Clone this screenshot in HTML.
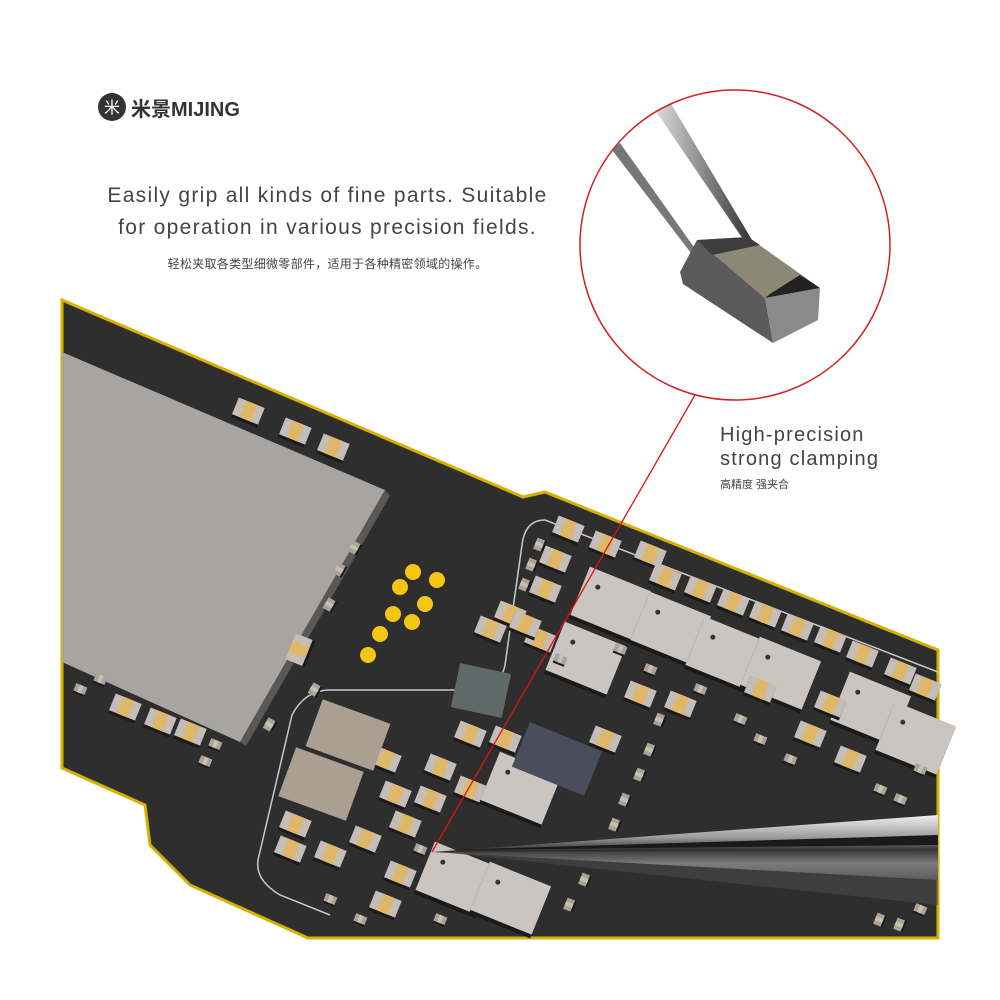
<!DOCTYPE html>
<html><head><meta charset="utf-8"><style>
html,body{margin:0;padding:0;background:#fff;}
.wrap{position:relative;width:1000px;height:1000px;overflow:hidden;font-family:"Liberation Sans","Noto Sans CJK SC",sans-serif;}
.t{position:absolute;color:#444;}
</style></head><body><div class="wrap">
<svg width="1000" height="1000" style="position:absolute;left:0;top:0">
<defs>
<linearGradient id="tw" x1="0" y1="0" x2="0" y2="1">
<stop offset="0" stop-color="#f0f0f0"/><stop offset="0.35" stop-color="#9a9a9a"/><stop offset="0.55" stop-color="#2a2a2a"/><stop offset="0.75" stop-color="#c8c8c8"/><stop offset="1" stop-color="#777"/></linearGradient>
<linearGradient id="tw2" x1="0" y1="0" x2="1" y2="0">
<stop offset="0" stop-color="#ddd"/><stop offset="0.5" stop-color="#8a8a8a"/><stop offset="1" stop-color="#333"/></linearGradient>
<g id="c"><rect x="-14" y="-9" width="28" height="20" fill="#1a1a1a"/><rect x="-14" y="-10" width="28" height="18" fill="#c4bdb8"/><rect x="-6" y="-10" width="12" height="18" fill="#deb868"/></g>
<g id="s"><rect x="-6" y="-4" width="12" height="9" fill="#1a1a1a"/><rect x="-6" y="-5" width="12" height="8" fill="#a9a39d"/><rect x="-2" y="-5" width="4" height="8" fill="#c9c1a6"/></g>
<g id="b"><rect x="-33" y="-26" width="66" height="54" fill="#1a1a1a"/><rect x="-33" y="-28" width="66" height="52" fill="#cbc5c1"/><circle cx="-18" cy="-12" r="2.5" fill="#333"/></g>
<clipPath id="cc"><circle cx="735" cy="245" r="155"/></clipPath>
</defs>
<polygon points="62,300 523,497 545,492 938,650 938,938 308,938 190,885 150,845 145,805 62,768" fill="#2e2e2e" stroke="#d6b100" stroke-width="3"/>
<polygon points="62,352 385,490 240,742 62,662" fill="#a7a4a1"/>
<polygon points="385,490 390,496 246,746 240,742" fill="#5a5856"/>
<path d="M545 520 L938 672" fill="none" stroke="#c8c8c8" stroke-width="1.5"/>
<path d="M545 520 Q525 520 522 545 L505 665 Q500 690 475 690 L330 690 Q305 690 292 715 L258 860 Q255 880 280 895 L330 915" fill="none" stroke="#c8c8c8" stroke-width="1.5"/>
<g fill="#f5c514">
<circle cx="413" cy="572" r="8"/><circle cx="437" cy="580" r="8"/><circle cx="400" cy="587" r="8"/><circle cx="425" cy="604" r="8"/><circle cx="393" cy="614" r="8"/><circle cx="412" cy="622" r="8"/><circle cx="380" cy="634" r="8"/><circle cx="368" cy="655" r="8"/></g>
<use href="#c" transform="translate(248,412) rotate(22)"/><use href="#c" transform="translate(295,432) rotate(22)"/><use href="#c" transform="translate(333,448) rotate(22)"/>
<use href="#c" transform="translate(125,708) rotate(22)"/><use href="#c" transform="translate(160,722) rotate(22)"/><use href="#c" transform="translate(190,733) rotate(22)"/>
<use href="#c" transform="translate(300,650) rotate(-68)"/>
<use href="#s" transform="translate(340,570) rotate(-60)"/><use href="#s" transform="translate(355,548) rotate(-60)"/><use href="#s" transform="translate(330,605) rotate(-60)"/><use href="#s" transform="translate(315,690) rotate(-60)"/><use href="#s" transform="translate(270,725) rotate(-60)"/><use href="#s" transform="translate(215,745) rotate(22)"/><use href="#s" transform="translate(100,680) rotate(22)"/><use href="#s" transform="translate(80,690) rotate(22)"/><use href="#s" transform="translate(205,762) rotate(22)"/>
<g>
<use href="#c" transform="translate(568,530) rotate(22)"/><use href="#c" transform="translate(605,545) rotate(22)"/><use href="#c" transform="translate(650,555) rotate(22)"/>
<use href="#c" transform="translate(555,560) rotate(22)"/><use href="#c" transform="translate(545,590) rotate(22)"/>
<use href="#c" transform="translate(510,615) rotate(22)"/><use href="#c" transform="translate(490,630) rotate(22)"/><use href="#c" transform="translate(540,640) rotate(22)"/><use href="#c" transform="translate(525,625) rotate(22)"/>
<use href="#c" transform="translate(665,578) rotate(22)"/><use href="#c" transform="translate(700,590) rotate(22)"/><use href="#c" transform="translate(733,603) rotate(22)"/><use href="#c" transform="translate(765,615) rotate(22)"/><use href="#c" transform="translate(797,628) rotate(22)"/><use href="#c" transform="translate(830,640) rotate(22)"/><use href="#c" transform="translate(862,655) rotate(22)"/><use href="#c" transform="translate(900,672) rotate(22)"/><use href="#c" transform="translate(925,688) rotate(22)"/>
<use href="#b" transform="translate(610,605) rotate(22)"/><use href="#b" transform="translate(670,630) rotate(22)"/><use href="#b" transform="translate(725,655) rotate(22)"/><use href="#b" transform="translate(780,675) rotate(22)"/><use href="#b" transform="translate(585,660) rotate(22)"/><use href="#b" transform="translate(870,710) rotate(22)"/><use href="#b" transform="translate(915,740) rotate(22)"/>
<use href="#c" transform="translate(640,695) rotate(22)"/><use href="#c" transform="translate(680,705) rotate(22)"/><use href="#c" transform="translate(760,690) rotate(22)"/><use href="#c" transform="translate(810,735) rotate(22)"/><use href="#c" transform="translate(850,760) rotate(22)"/><use href="#c" transform="translate(830,705) rotate(22)"/>
<use href="#c" transform="translate(470,735) rotate(22)"/><use href="#c" transform="translate(505,740) rotate(22)"/><use href="#c" transform="translate(440,768) rotate(22)"/><use href="#c" transform="translate(605,740) rotate(22)"/><use href="#c" transform="translate(470,790) rotate(22)"/><use href="#c" transform="translate(430,800) rotate(22)"/>
<use href="#c" transform="translate(395,795) rotate(22)"/><use href="#c" transform="translate(405,825) rotate(22)"/><use href="#c" transform="translate(365,840) rotate(22)"/><use href="#c" transform="translate(400,875) rotate(22)"/><use href="#c" transform="translate(385,905) rotate(22)"/>
<use href="#c" transform="translate(295,825) rotate(22)"/><use href="#c" transform="translate(290,850) rotate(22)"/><use href="#c" transform="translate(330,855) rotate(22)"/><use href="#c" transform="translate(385,760) rotate(22)"/>
<use href="#b" transform="translate(520,790) rotate(22)"/><use href="#b" transform="translate(455,880) rotate(22)"/><use href="#b" transform="translate(510,900) rotate(22)"/>
<use href="#s" transform="translate(560,660) rotate(22)"/><use href="#s" transform="translate(620,650) rotate(22)"/><use href="#s" transform="translate(650,670) rotate(22)"/><use href="#s" transform="translate(700,690) rotate(22)"/><use href="#s" transform="translate(740,720) rotate(22)"/><use href="#s" transform="translate(760,740) rotate(22)"/><use href="#s" transform="translate(790,760) rotate(22)"/><use href="#s" transform="translate(880,790) rotate(22)"/><use href="#s" transform="translate(900,800) rotate(22)"/><use href="#s" transform="translate(920,770) rotate(22)"/>
<use href="#s" transform="translate(660,720) rotate(-68)"/><use href="#s" transform="translate(650,750) rotate(-68)"/><use href="#s" transform="translate(640,775) rotate(-68)"/><use href="#s" transform="translate(625,800) rotate(-68)"/><use href="#s" transform="translate(615,825) rotate(-68)"/><use href="#s" transform="translate(600,850) rotate(-68)"/><use href="#s" transform="translate(585,880) rotate(-68)"/><use href="#s" transform="translate(570,905) rotate(-68)"/>
<use href="#s" transform="translate(540,545) rotate(-68)"/><use href="#s" transform="translate(532,565) rotate(-68)"/><use href="#s" transform="translate(525,585) rotate(-68)"/>
<use href="#s" transform="translate(880,920) rotate(-68)"/><use href="#s" transform="translate(900,925) rotate(-68)"/><use href="#s" transform="translate(920,910) rotate(22)"/>
<use href="#s" transform="translate(420,850) rotate(22)"/><use href="#s" transform="translate(330,900) rotate(22)"/><use href="#s" transform="translate(360,920) rotate(22)"/><use href="#s" transform="translate(440,920) rotate(22)"/>
</g>
<rect x="455" y="668" width="52" height="45" fill="#5f6a68" transform="rotate(12 481 690)"/>
<rect x="518" y="735" width="78" height="48" fill="#4a4e5c" transform="rotate(22 557 759)"/>
<rect x="312" y="710" width="72" height="50" fill="#aa9f90" transform="rotate(20 348 735)"/>
<rect x="285" y="758" width="72" height="52" fill="#aa9f90" transform="rotate(20 321 784)"/>
<polygon points="432,852 938,815 938,880" fill="url(#tw)"/>
<polygon points="445,850 938,835 938,845" fill="#1a1a1a"/>
<polygon points="440,852 938,850 938,905" fill="#4a4a4a" opacity="0.6"/>
<line x1="432" y1="852" x2="695" y2="395" stroke="#e01010" stroke-width="1.3"/>
<circle cx="735" cy="245" r="155" fill="#fff"/>
<g clip-path="url(#cc)">
<polygon points="655,110 670,102 752,240 745,242" fill="url(#tw2)"/>
<polygon points="612,150 620,143 740,312 737,313" fill="#777"/>
<polygon points="680,272 697,240 765,298 773,343 683,284" fill="#5b5b5b"/>
<polygon points="697,240 748,237 820,288 765,298" fill="#8d8775"/>
<polygon points="697,240 748,237 760,245 712,255" fill="#3e3e3e"/>
<polygon points="770,294 800,275 820,288 765,298" fill="#222"/>
<polygon points="765,298 820,288 818,320 773,343" fill="#8a8a8a"/>
</g>
<circle cx="735" cy="245" r="155" fill="none" stroke="#d02020" stroke-width="1.5"/>
<circle cx="112" cy="107" r="14" fill="#333"/>
<text x="104" y="113" fill="#fff" font-size="16" font-family="Noto Sans CJK SC,sans-serif">米</text>
</svg>
<div class="t" style="left:131px;top:93px;font-size:20px;font-weight:bold;color:#333">米景MIJING</div>
<div class="t" style="left:80px;top:180px;width:495px;text-align:center;font-size:21px;line-height:32px;letter-spacing:1.3px">Easily grip all kinds of fine parts. Suitable<br>for operation in various precision fields.</div>
<div class="t" style="left:80px;top:255px;width:495px;text-align:center;font-size:12px;letter-spacing:0.3px">轻松夹取各类型细微零部件，适用于各种精密领域的操作。</div>
<div class="t" style="left:720px;top:423px;font-size:20px;line-height:24px;letter-spacing:1.2px">High-precision<br>strong clamping</div>
<div class="t" style="left:720px;top:476px;font-size:11px">高精度  强夹合</div>
</div></body></html>
